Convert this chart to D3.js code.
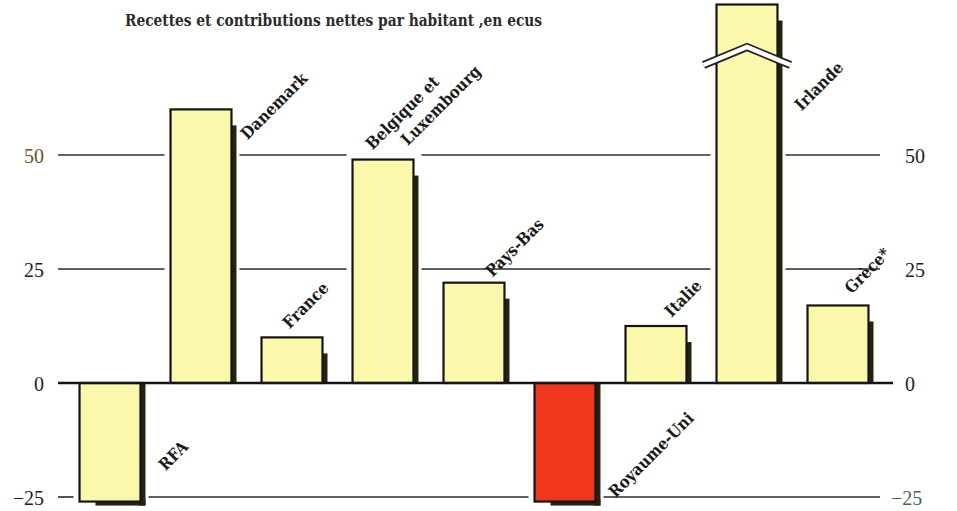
<!DOCTYPE html>
<html><head><meta charset="utf-8">
<script src="https://cdn.jsdelivr.net/npm/d3@7"></script>
<style>
html,body{margin:0;padding:0;background:#fff;}
svg{display:block;}
</style></head>
<body>
<script>
// ---- data ----
const categories = ["RFA","Danemark","France","Belgique et Luxembourg","Pays-Bas","Royaume-Uni","Italie","Irlande","Grèce*"];
const values = [-26, 60, 10, 49, 22, -26, 12.5, 83, 17];
const brokenBar = [false,false,false,false,false,false,false,true,false];
const highlight = [false,false,false,false,false,true,false,false,false];
const tickValues = [-25, 0, 25, 50];
const tickLabels = ["\u221225","0","25","50"];
const title = "Recettes et contributions nettes par habitant ,en ecus";

// ---- layout (pixels, not data) ----
const W = 957, H = 511;
// label anchor: [dx from bar left, dy from bar end]
const labelNudge = [[86,-30],[77,31],[28,-8],[20,-9],[49,-5],[81,-3],[46,-8],[85,107],[44,-11]];

const svg = d3.select("body").append("svg").attr("width",W).attr("height",H);

const x = d3.scaleBand().domain(categories).range([64.5, 883.5]).paddingInner(0.33).paddingOuter(0.165);
const y = d3.scaleLinear().domain([-25, 50]).range([497, 155]);

const lineL = 58, lineR = 880, baseR = 893;
const fillYellow = "#fbf7ab", fillRed = "#f0361c", shadowCol = "#23230f";
const labelFont = "'DejaVu Serif Condensed','DejaVu Serif',serif";

// title
svg.append("text").attr("x",125).attr("y",26)
  .attr("font-family",labelFont)
  .attr("font-weight","bold").attr("font-size",16).attr("fill","#2a2a2a")
  .attr("textLength",417).attr("lengthAdjust","spacingAndGlyphs")
  .text(title);

// gridlines broken around bars
const bw = x.bandwidth();
tickValues.filter(t=>t!==0).forEach(t=>{
  const gaps = [];
  categories.forEach((c,i)=>{
    const v = values[i];
    const lo = Math.min(0,v)-1.5, hi = Math.max(0,v)+1.5;
    if (t>=lo && t<=hi) gaps.push([x(c)-6, x(c)+bw+8]);
  });
  gaps.sort((a,b)=>a[0]-b[0]);
  let start = lineL;
  const segs = [];
  gaps.forEach(g=>{ if (g[0]>start) segs.push([start,g[0]]); start = Math.max(start,g[1]); });
  if (start<lineR) segs.push([start,lineR]);
  segs.forEach(s=>{
    svg.append("line").attr("x1",s[0]).attr("x2",s[1]).attr("y1",y(t)).attr("y2",y(t))
      .attr("stroke", t===50 ? "#3a3020" : "#2a2a2a").attr("stroke-width",1.6);
  });
});

// bars
categories.forEach((c,i)=>{
  const v = values[i];
  const x0 = x(c);
  const yTop = y(Math.max(0,v)), yBot = y(Math.min(0,v));
  const g = svg.append("g");
  if (v>=0) {
    g.append("rect").attr("x",x0+bw-2).attr("y",yTop+16).attr("width",7).attr("height",yBot-yTop-16).attr("fill",shadowCol);
  } else {
    g.append("rect").attr("x",x0+16).attr("y",yBot-2).attr("width",bw-11).attr("height",6).attr("fill",shadowCol);
    g.append("rect").attr("x",x0+bw-2).attr("y",yTop).attr("width",7).attr("height",yBot-yTop+4).attr("fill",shadowCol);
  }
  g.append("rect").attr("x",x0).attr("y",yTop).attr("width",bw).attr("height",yBot-yTop)
    .attr("fill", highlight[i]?fillRed:fillYellow).attr("stroke","#151510").attr("stroke-width",2.2);
  if (brokenBar[i]) {
    const cx = x0+bw/2, pts = [[x0-13,65],[cx,47],[x0+bw+13,65]];
    const ln = d3.line();
    g.append("path").attr("d",ln(pts)).attr("fill","none").attr("stroke","#222").attr("stroke-width",8);
    g.append("path").attr("d",ln(pts)).attr("fill","none").attr("stroke","#fff").attr("stroke-width",4.5);
  }
});

// baseline
svg.append("line").attr("x1",lineL).attr("x2",baseR).attr("y1",y(0)).attr("y2",y(0))
  .attr("stroke","#151515").attr("stroke-width",2.6);

// axis labels left and right
const axL = d3.axisLeft(y).tickValues(tickValues).tickSize(0).tickPadding(0)
  .tickFormat(d=>tickLabels[tickValues.indexOf(d)]);
const gl = svg.append("g").attr("transform","translate(44,0)").call(axL);
gl.select(".domain").remove();
gl.selectAll("text").attr("font-family","'Liberation Serif',serif").attr("font-size",20)
  .attr("fill",d=>d===50?"#6b5226":"#222").attr("dy","0.35em");
const axR = d3.axisRight(y).tickValues(tickValues).tickSize(0).tickPadding(0)
  .tickFormat(d=>tickLabels[tickValues.indexOf(d)]);
const gr = svg.append("g").attr("transform","translate(905,0)").call(axR);
gr.select(".domain").remove();
gr.selectAll("text").attr("font-family","'Liberation Serif',serif").attr("font-size",20)
  .attr("fill",d=>d<0?"#3f6a48":"#222").attr("dy","0.35em")
  .attr("x",d=>d<0?-14:0);

// category labels rotated
categories.forEach((c,i)=>{
  const v = values[i];
  const x0 = x(c);
  const yEnd = y(v);
  const ax = x0 + labelNudge[i][0], ay = yEnd + labelNudge[i][1];
  const t = svg.append("text").attr("transform",`translate(${ax},${ay}) rotate(-45)`)
    .attr("font-family",labelFont).attr("font-weight","bold")
    .attr("font-size",16.5).attr("fill","#1a1a1a");
  if (c==="Belgique et Luxembourg") {
    t.append("tspan").attr("x",0).attr("y",0).text("Belgique et");
    t.append("tspan").attr("x",28).attr("y",22).text("Luxembourg");
  } else {
    t.text(c);
  }
});
</script>
</body></html>
